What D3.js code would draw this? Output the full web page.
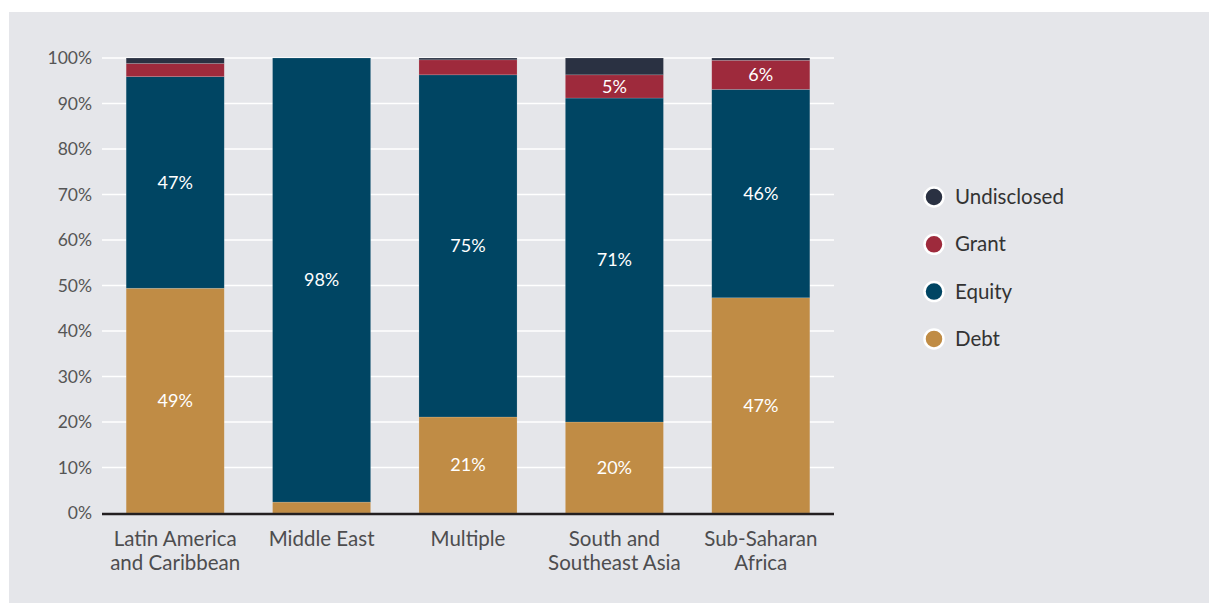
<!DOCTYPE html>
<html><head><meta charset="utf-8">
<script src="https://cdn.jsdelivr.net/npm/d3@7"></script>
<style>
html,body{margin:0;padding:0;background:#fff;}
svg{display:block;}
</style></head>
<body>
<svg id="chart" width="1209" height="603"></svg>
<script>
const categories = ["Latin America|and Caribbean", "Middle East", "Multiple", "South and|Southeast Asia", "Sub-Saharan|Africa"];
const seriesNames = ["Debt", "Equity", "Grant", "Undisclosed"];
const debt        = [49.4, 2.4, 21.1, 20.0, 47.3];
const equity      = [46.5, 97.6, 75.2, 71.2, 45.8];
const grant       = [2.9, 0, 3.3, 5.1, 6.4];
const undisclosed = [1.2, 0, 0.4, 3.7, 0.5];
const yTicks = [0,10,20,30,40,50,60,70,80,90,100];
const colors = {Debt:"#c08c45", Equity:"#004563", Grant:"#9e2a3c", Undisclosed:"#2a3142"};

const seriesValues = {Debt:debt, Equity:equity, Grant:grant, Undisclosed:undisclosed};
const rows = categories.map((c,i)=>{
  const r = {cat:c};
  seriesNames.forEach(s=>r[s]=seriesValues[s][i]);
  return r;
});

const svg = d3.select("#chart");
svg.append("rect").attr("x",9).attr("y",12).attr("width",1200).attr("height",591).attr("fill","#e5e6ea");

const x = d3.scaleBand().domain(categories).range([102,834]).paddingInner(0.33).paddingOuter(0.165);
const y = d3.scaleLinear().domain([0,100]).range([513,58]);

const font = "Lato, 'Open Sans', sans-serif";

// gridlines
svg.append("g").selectAll("line").data(yTicks.filter(t=>t>0)).join("line")
  .attr("x1",102).attr("x2",834).attr("y1",d=>y(d)).attr("y2",d=>y(d))
  .attr("stroke","#ffffff").attr("stroke-width",1.5);

// y axis labels
const yAxis = d3.axisLeft(y).tickValues(yTicks).tickFormat(d=>d+"%").tickSize(0).tickPadding(10);
const ya = svg.append("g").attr("transform","translate(102,0)").call(yAxis);
ya.select(".domain").remove();
ya.selectAll("text").attr("font-family",font).attr("font-size",17.5).attr("fill","#555");

const stack = d3.stack().keys(seriesNames)(rows);

const g = svg.append("g");
stack.forEach(layer=>{
  g.append("g").selectAll("rect").data(layer).join("rect")
    .attr("x",d=>x(d.data.cat)).attr("width",x.bandwidth())
    .attr("y",d=>y(d[1])).attr("height",d=>Math.max(0,y(d[0])-y(d[1])))
    .attr("fill",colors[layer.key])
    .attr("stroke","rgba(255,255,255,0.25)").attr("stroke-width",0.6);
});

// value labels
stack.forEach(layer=>{
  g.append("g").selectAll("text").data(layer.filter(d=>(d[1]-d[0])>=4.5 && layer.key!=="Undisclosed")).join("text")
    .attr("x",d=>x(d.data.cat)+x.bandwidth()/2)
    .attr("y",d=>y((d[0]+d[1])/2))
    .attr("dy","0.35em")
    .attr("text-anchor","middle")
    .attr("font-family",font).attr("font-size",18).attr("fill","#ffffff")
    .text(d=>Math.round(d[1]-d[0])+"%");
});

// x axis line
svg.append("line").attr("x1",102).attr("x2",834).attr("y1",514).attr("y2",514)
  .attr("stroke","#231f20").attr("stroke-width",2.5);

// x axis labels
const xa = svg.append("g").attr("transform","translate(0,514)").call(d3.axisBottom(x).tickSize(0).tickFormat(""));
xa.select(".domain").remove();
xa.selectAll(".tick").each(function(d){
  const lines = d.split("|");
  const t = d3.select(this).append("text")
    .attr("font-family",font).attr("font-size",20.5).attr("fill","#4d4d4f").attr("text-anchor","middle");
  lines.forEach((l,i)=>t.append("tspan").attr("x",0).attr("y",32+i*24).text(l));
});

// legend
const legendOrder = ["Undisclosed","Grant","Equity","Debt"];
const lg = svg.append("g");
legendOrder.forEach((s,i)=>{
  const cy = 197 + i*47.3;
  lg.append("circle").attr("cx",934).attr("cy",cy).attr("r",9.5)
    .attr("fill",colors[s]).attr("stroke","#ffffff").attr("stroke-width",2.5);
  lg.append("text").attr("x",955).attr("y",cy).attr("dy","0.35em")
    .attr("font-family",font).attr("font-size",20.5).attr("fill","#333")
    .text(s);
});
</script>
</body></html>
